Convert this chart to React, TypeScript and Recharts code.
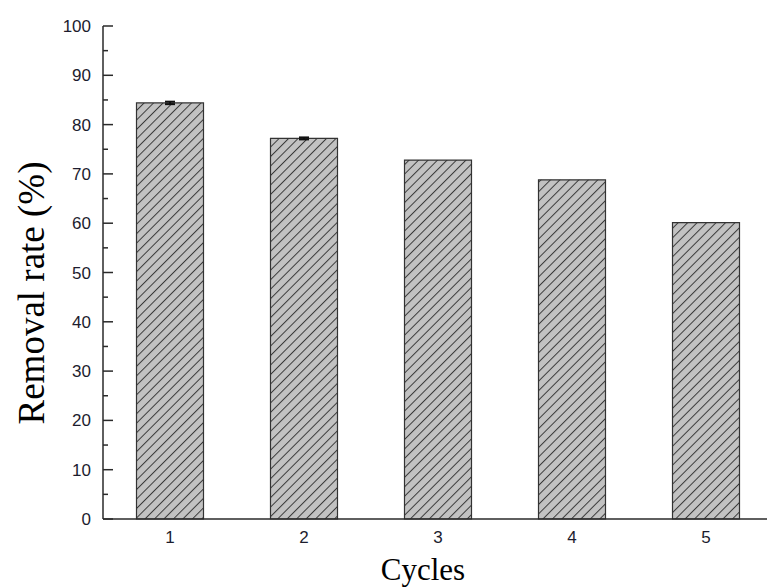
import React from 'react';
import { BarChart, Bar, XAxis, YAxis, ErrorBar } from 'recharts';

const cycles = ['1', '2', '3', '4', '5'];
const removalRate = [84.4, 77.2, 72.8, 68.8, 60.1];
const removalErr = [0.25, 0.2, 0, 0, 0];
const yTicks = [0, 5, 10, 15, 20, 25, 30, 35, 40, 45, 50, 55, 60, 65, 70, 75, 80, 85, 90, 95, 100];

const data = cycles.map((c, i) => ({ cycle: c, rate: removalRate[i], err: removalErr[i] }));

const AXIS = '#2a2a2a';
const TICK_FONT = '"Liberation Sans", Arial, sans-serif';
const SERIF = '"Liberation Serif", "Times New Roman", serif';

const YTick = (props: any) => {
  const { x, y, payload } = props;
  const v = payload.value as number;
  const major = v % 10 === 0;
  return (
    <g>
      <line x1={x} y1={y} x2={x + (major ? 10 : 5)} y2={y} stroke={AXIS} strokeWidth={1.5} />
      {major && (
        <text x={x - 12} y={y} dy={6} textAnchor="end" fontFamily={TICK_FONT} fontSize={17} fill="#1c1c2e">
          {v}
        </text>
      )}
    </g>
  );
};

const XTick = (props: any) => {
  const { x, y, payload } = props;
  return (
    <text x={x} y={y + 24} textAnchor="middle" fontFamily={TICK_FONT} fontSize={17} fill="#1c1c2e">
      {payload.value}
    </text>
  );
};

export default function App() {
  return (
    <div style={{ position: 'fixed', left: 0, top: 0, width: 767, height: 587, overflow: 'hidden', background: '#fff' }}>
      <BarChart
        width={790}
        height={587}
        data={data}
        margin={{ top: 26, right: 17, bottom: 0, left: 43 }}
        barCategoryGap="25%"
      >
        <defs>
          <pattern id="hatch" patternUnits="userSpaceOnUse" width={6.7} height={6.7} patternTransform="rotate(45)">
            <rect x={0} y={0} width={6.7} height={6.7} fill="#c2c2c2" />
            <line x1={0} y1={0} x2={0} y2={6.7} stroke="#3a3a3a" strokeWidth={2} />
          </pattern>
        </defs>
        <XAxis
          dataKey="cycle"
          height={68}
          tickLine={false}
          tickSize={0}
          tickMargin={0}
          axisLine={{ stroke: AXIS, strokeWidth: 1.5 }}
          tick={<XTick />}
          label={{
            content: () => (
              <text x={423} y={580} textAnchor="middle" fontFamily={SERIF} fontSize={31} fill="#000">
                Cycles
              </text>
            ),
          }}
        />
        <YAxis
          width={60}
          domain={[0, 100]}
          ticks={yTicks}
          interval={0}
          tickLine={false}
          tickSize={0}
          tickMargin={0}
          axisLine={{ stroke: AXIS, strokeWidth: 1.5 }}
          tick={<YTick />}
          label={{
            content: () => (
              <text
                x={0}
                y={0}
                transform="translate(44 293) rotate(-90)"
                textAnchor="middle"
                fontFamily={SERIF}
                fontSize={37}
                fill="#000"
              >
                Removal rate (%)
              </text>
            ),
          }}
        />
        <Bar dataKey="rate" fill="url(#hatch)" stroke="#333" strokeWidth={1.2} isAnimationActive={false}>
          <ErrorBar dataKey="err" width={5} stroke="#111" strokeWidth={2} direction="y" />
        </Bar>
      </BarChart>
    </div>
  );
}
